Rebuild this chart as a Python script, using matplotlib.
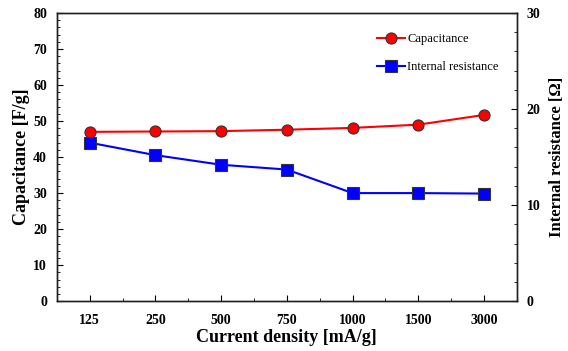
import numpy as np
import matplotlib.pyplot as plt
from matplotlib.ticker import MultipleLocator

plt.rcParams['font.family'] = ['Liberation Serif', 'DejaVu Serif']

densities = ['125', '250', '500', '750', '1000', '1500', '3000']
capacitance = [47.0, 47.1, 47.2, 47.6, 48.1, 49.0, 51.7]
resistance = [16.5, 15.2, 14.2, 13.7, 11.25, 11.25, 11.2]

x = np.arange(len(densities))

fig = plt.figure(figsize=(5.68, 3.51), dpi=100)
ax1 = fig.add_axes([0.100, 0.142, 0.810, 0.821])
ax2 = ax1.twinx()

l1, = ax1.plot(x, capacitance, '-o', color='red', lw=1.5, ms=8,
               mfc='red', mec='#333333', mew=0.8, label='Capacitance')
l2, = ax2.plot(x, resistance, '-s', color='blue', lw=1.5, ms=8,
               mfc='blue', mec='#333333', mew=0.8, label='Internal resistance')

ax1.set_xlim(-0.5, 6.5)
ax1.set_ylim(0, 80)
ax2.set_ylim(0, 30)
ax1.set_xticks(x)
ax1.set_xticklabels(densities)
ax1.xaxis.set_minor_locator(MultipleLocator(0.5))
ax1.yaxis.set_major_locator(MultipleLocator(10))
ax1.yaxis.set_minor_locator(MultipleLocator(2))
ax2.yaxis.set_major_locator(MultipleLocator(10))
ax2.yaxis.set_minor_locator(MultipleLocator(2))

ax1.tick_params(axis='both', which='both', direction='in', top=False, right=False)
ax1.tick_params(axis='both', which='major', length=4, labelsize=10)
ax1.tick_params(axis='both', which='minor', length=2)
ax1.tick_params(axis='x', pad=9)
ax1.tick_params(axis='y', pad=7)
ax2.tick_params(axis='y', which='both', direction='in')
ax2.tick_params(axis='y', which='major', length=4, labelsize=10, pad=7)
ax2.tick_params(axis='y', which='minor', length=2)

for lab in ax1.get_xticklabels() + ax1.get_yticklabels() + ax2.get_yticklabels():
    lab.set_fontweight('bold')

for ax in (ax1, ax2):
    for s in ax.spines.values():
        s.set_linewidth(1.0)
        s.set_color('#222222')

ax1.set_xlabel('Current density [mA/g]', fontsize=13, fontweight='bold', labelpad=2)
ax1.set_ylabel('Capacitance [F/g]', fontsize=13, fontweight='bold', labelpad=2)
ax2.set_ylabel('Internal resistance [\u03a9]', fontsize=12, fontweight='bold', labelpad=6)

ax1.legend([l1, l2], ['Capacitance', 'Internal resistance'], loc='upper right',
           bbox_to_anchor=(0.985, 0.97), frameon=False, fontsize=9,
           handlelength=2.2, labelspacing=1.3, handletextpad=0.2)

fig.savefig('out.png', dpi=100)
